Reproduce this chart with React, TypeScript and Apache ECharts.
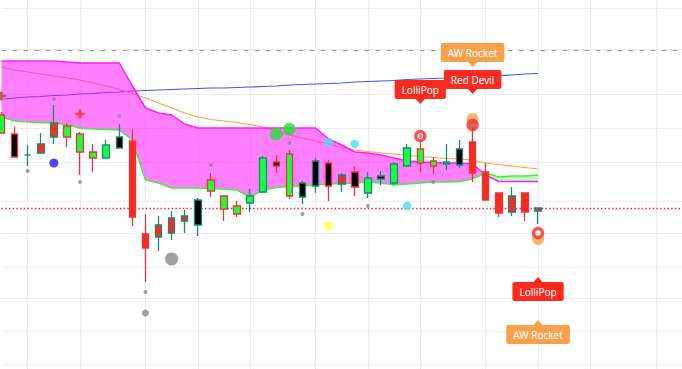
import React, { useEffect, useRef } from "react";
import * as echarts from "echarts";

// ---------- data ----------
const categories: string[] = Array.from({ length: 53 }, (_, i) => `D${i + 1}`);

const opens = [254, 235, 214, 216, 232, 243, 235, 217, 211, 221, 228, 135, 132, 136, 148, 144, 189, 173, 163, 166, 177, 207, 215, 172, 183, 206, 185, 197, 176, 190, 186, 203, 220, 208, 205, 204, 227, 197, 176, 157, 176, 158];
const closes = [236, 212, 214, 225, 246, 232, 217, 211, 224, 232, 152, 121, 144, 151, 153, 169, 178, 160, 155, 173, 211, 203, 173, 186, 208, 183, 194, 182, 191, 193, 205, 221, 206, 203, 207, 220, 196, 169, 156, 173, 157, 161];
const lows = [236, 212, 203, 216, 225, 222, 194, 197, 211, 221, 143, 87, 118, 129, 136, 133, 172, 148, 152, 157, 176, 196, 170, 165, 176, 168, 177, 173, 171, 184, 184, 202, 197, 195, 199, 201, 187, 169, 152, 153, 148, 145];
const highs = [257, 242, 224, 236, 264, 246, 237, 225, 229, 245, 240, 155, 153, 158, 159, 171, 196, 174, 168, 180, 213, 214, 219, 188, 211, 209, 196, 203, 197, 198, 207, 225, 229, 212, 225, 229, 242, 206, 176, 182, 176, 161];
// body fill signal: g = green, r = red, k = black, t = teal (doji)
const fillSignal = ["g", "k", "t", "r", "r", "g", "g", "g", "g", "k", "r", "r", "r", "r", "r", "k", "g", "g", "g", "g", "g", "k", "g", "k", "k", "k", "r", "k", "g", "k", "g", "g", "g", "g", "g", "k", "r", "r", "r", "r", "r", "r"];

const blueLine = [270, 271, 272, 272.5, 273.5, 274, 275, 275.5, 276.5, 277, 278, 278.5, 279, 279.5, 280, 280.5, 281, 281, 281.5, 282, 282.5, 283, 284, 284.5, 285, 285.5, 286, 287, 287.5, 288, 288.5, 289.5, 290, 290.5, 291, 292, 292.5, 293, 293.5, 294, 295, 295.5];
const orangeLine = [302, 299, 297, 295, 293, 291, 289, 286, 283, 279.5, 275.5, 271, 266, 261, 256, 252, 249.5, 248, 246.5, 244.5, 242, 238, 234, 231, 228, 225, 221.5, 219, 217.5, 216, 215, 213.5, 212.5, 211.5, 210.5, 210, 209, 206, 204.5, 203, 201.5, 200];
const spanA = [252, 248, 247, 246.5, 246, 244, 241, 240, 239.5, 239, 229, 189, 186, 181, 181, 181, 180.5, 180, 179, 172, 179, 181.5, 182.5, 183, 184, 185, 185.5, 186, 187, 186, 184, 185, 186, 187, 187, 187.5, 190, 196, 192, 193, 193, 194];
const spanB = [308, 308, 308, 308, 308, 307, 306, 306, 306, 306, 283, 261, 256, 254, 245, 241, 241, 241, 241, 241, 241, 241, 241, 241, 241, 230, 224, 217, 216, 214, 211, 208, 207, 206.5, 206, 206, 205, 194, 187.5, 187.5, 187.5, 187.5];

const gridLevels = [361, 320, 275, 241, 207, 168, 136, 102, 71, 38, 5];
const splitIndices = [2, 6, 11, 15, 19, 24, 28, 32, 37, 41, 45, 50];
const resistanceLevel = 319;

const grayDots = [[2, 198], [4, 270], [6, 187], [9, 253], [11, 77], [16, 204], [22, 226], [23, 155], [28, 163], [33, 187], [32, 233], [36, 244]];
const grayMid = [[11, 56]];
const grayBig = [[13, 110]];
const blueDots = [[4, 206]];
const cyanDots = [[0, 273], [25, 227], [27, 225], [31, 163]];
const greenDots = [[21, 235], [22, 240]];
const yellowDots = [[25, 143]];
const crossMarks = [[0, 273], [6, 255]];
const orangeDots = [[36, 250], [41, 130]];
const redDots = [[36, 244]];
const redRings = [[32, 233], [41, 136]];

const annoIndex = [32, 36, 36, 41, 41];
const annoValue = [265, 275, 302, 92, 49];
const annoText = ["LolliPop", "Red Devil", "AW Rocket", "LolliPop", "AW Rocket"];
const annoKind = ["red", "red", "orange", "red", "orange"];
const annoSide = ["above", "above", "above", "below", "below"];

// ---------- styles ----------
const RED = "#fb2a1f";
const RED_BORDER = "#e5383b";
const TEAL = "#178a79";
const GREEN = "#19ff3c";
const ORANGE = "#f8a14d";
const FILL: Record<string, string> = { g: GREEN, r: RED, k: "#000000", t: TEAL };

export default function App() {
  const ref = useRef<HTMLDivElement>(null);
  useEffect(() => {
    if (!ref.current) return;
    const chart = echarts.init(ref.current, undefined, { renderer: "svg" });

    const candleData = opens.map((o, i) => {
      const c = closes[i];
      const border = c >= o ? TEAL : RED_BORDER;
      const fill = FILL[fillSignal[i]];
      return {
        value: [o, c, lows[i], highs[i]],
        itemStyle: { color: fill, color0: fill, borderColor: border, borderColor0: border },
      };
    });

    const splitSet = new Set(splitIndices);
    const lastClose = closes[closes.length - 1];

    const scatter = (data: number[][], size: number, itemStyle: any, z: number, symbol = "circle") => ({
      type: "scatter",
      data,
      symbol,
      symbolSize: size,
      itemStyle,
      z,
      silent: true,
      clip: false,
    });

    chart.setOption({
      animation: false,
      grid: { left: 1.5, top: 0, width: 681.2, height: 369 },
      xAxis: {
        type: "category",
        data: categories,
        boundaryGap: false,
        axisLine: { show: false },
        axisTick: { show: false },
        axisLabel: { show: false },
        splitLine: {
          show: true,
          interval: (index: number) => splitSet.has(index),
          lineStyle: { color: "#ececec", width: 1 },
        },
      },
      yAxis: {
        type: "value",
        min: 0,
        max: 369,
        show: false,
        splitLine: { show: false },
      },
      series: [
        {
          type: "line",
          data: [],
          z: 0,
          silent: true,
          markLine: {
            z: 0,
            silent: true,
            symbol: ["none", "none"],
            label: { show: false },
            lineStyle: { color: "#ececec", type: "solid", width: 1 },
            data: gridLevels.map((v) => ({ yAxis: v })),
          },
        },
        {
          type: "line",
          data: blueLine,
          showSymbol: false,
          symbol: "none",
          z: 1,
          silent: true,
          lineStyle: { color: "#3858ee", width: 1.2 },
        },
        {
          type: "line",
          data: orangeLine,
          showSymbol: false,
          symbol: "none",
          z: 1,
          silent: true,
          lineStyle: { color: "#ffa23a", width: 1.2 },
        },
        {
          type: "custom",
          z: 2,
          silent: true,
          data: [[0, 0]],
          renderItem: (params: any, api: any) => {
            const n = spanA.length;
            const pa = spanA.map((v, i) => api.coord([i, v]));
            const pb = spanB.map((v, i) => api.coord([i, v]));
            const regions: { sign: number; pts: number[][] }[] = [];
            let sign = Math.sign(spanB[0] - spanA[0]);
            let top: number[][] = [pb[0]];
            let bot: number[][] = [pa[0]];
            for (let i = 0; i < n - 1; i++) {
              const d0 = spanB[i] - spanA[i];
              const d1 = spanB[i + 1] - spanA[i + 1];
              if (d0 * d1 < 0) {
                const t = d0 / (d0 - d1);
                const c = [
                  pa[i][0] + t * (pa[i + 1][0] - pa[i][0]),
                  pa[i][1] + t * (pa[i + 1][1] - pa[i][1]),
                ];
                top.push(c);
                bot.push(c);
                regions.push({ sign, pts: top.concat(bot.slice().reverse()) });
                sign = Math.sign(d1);
                top = [c];
                bot = [c];
              }
              top.push(pb[i + 1]);
              bot.push(pa[i + 1]);
            }
            regions.push({ sign, pts: top.concat(bot.slice().reverse()) });
            return {
              type: "group",
              children: regions.map((r) => ({
                type: "polygon",
                shape: { points: r.pts },
                style: { fill: r.sign >= 0 ? "rgba(255,0,255,0.5)" : "rgba(40,255,40,0.32)" },
              })),
            };
          },
        },
        {
          type: "line",
          data: spanA,
          showSymbol: false,
          symbol: "none",
          z: 3,
          silent: true,
          lineStyle: { color: "#3fee3f", width: 1.5 },
        },
        {
          type: "line",
          data: spanB,
          showSymbol: false,
          symbol: "none",
          z: 3,
          silent: true,
          lineStyle: { color: "#ff1cff", width: 1.5 },
        },
        {
          type: "line",
          data: [],
          z: 4,
          silent: true,
          markLine: {
            z: 4,
            silent: true,
            symbol: ["none", "none"],
            label: { show: false },
            data: [
              { yAxis: resistanceLevel, lineStyle: { color: "#9a9a9a", type: [5, 6], width: 1.2 } },
              { yAxis: lastClose, lineStyle: { color: "#ff2222", type: [1.5, 2.2], width: 1.4 } },
            ],
          },
        },
        {
          type: "candlestick",
          data: candleData,
          barWidth: 7,
          z: 5,
          silent: true,
          clip: false,
          itemStyle: { borderWidth: 1.3 },
        },
        scatter(cyanDots, 8.5, { color: "#3fe4f7" }, 6),
        scatter(blueDots, 9, { color: "#2a14ee" }, 6),
        scatter(greenDots, 12.5, { color: "#22e033" }, 6),
        scatter(yellowDots, 9, { color: "#ffff3a" }, 6),
        scatter(grayMid, 7, { color: "#8a8a8a" }, 6),
        scatter(grayBig, 13, { color: "#8a8a8a" }, 6),
        scatter(orangeDots, 12, { color: ORANGE }, 6),
        scatter(redDots, 12.5, { color: RED }, 7),
        scatter(redRings, 9, { color: "#ffffff", borderColor: RED, borderWidth: 3.4 }, 7),
        scatter(crossMarks, 9, { color: RED }, 7, "path://M3.5,0H6.5V3.5H10V6.5H6.5V10H3.5V6.5H0V3.5H3.5Z"),
        scatter(grayDots, 4, { color: "#8a8a8a" }, 8),
        {
          type: "custom",
          z: 10,
          silent: true,
          data: annoIndex.map((ix, k) => [ix, annoValue[k]]),
          renderItem: (params: any, api: any) => {
            const k = params.dataIndex;
            const p = api.coord([api.value(0), api.value(1)]);
            const color = annoKind[k] === "orange" ? ORANGE : RED;
            const above = annoSide[k] === "above";
            const ph = 5.5;
            const baseY = above ? p[1] - ph : p[1] + ph;
            return {
              type: "group",
              children: [
                {
                  type: "polygon",
                  shape: { points: [[p[0] - 5, baseY], [p[0] + 5, baseY], [p[0], p[1]]] },
                  style: { fill: color },
                },
                {
                  type: "text",
                  x: p[0],
                  y: above ? baseY + 0.5 : baseY - 0.5,
                  style: {
                    text: annoText[k],
                    fill: "#ffffff",
                    font: '10px "Noto Sans", sans-serif',
                    align: "center",
                    verticalAlign: above ? "bottom" : "top",
                    backgroundColor: color,
                    padding: [3, 7, 3, 7],
                    borderRadius: 2,
                    lineHeight: 13,
                  },
                },
              ],
            };
          },
        },
      ],
    });
    return () => chart.dispose();
  }, []);

  return (
    <div
      ref={ref}
      style={{ position: "absolute", left: 0, top: 0, width: 682, height: 369 }}
    />
  );
}
